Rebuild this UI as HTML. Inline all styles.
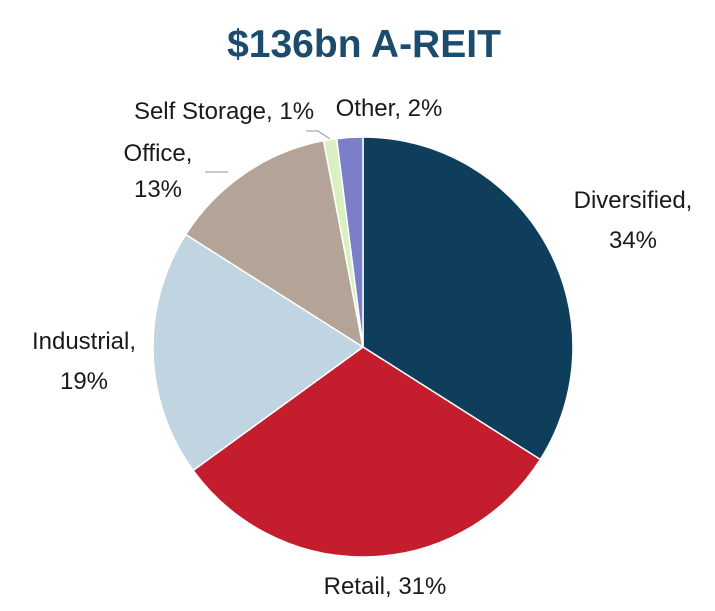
<!DOCTYPE html>
<html><head><meta charset="utf-8"><style>
html,body{margin:0;padding:0;background:#fff;}
svg{display:block;}
text{font-family:"Liberation Sans",sans-serif;fill:#1a1a1a;}
</style></head><body>
<svg width="715" height="611" viewBox="0 0 715 611" xmlns="http://www.w3.org/2000/svg">
<rect width="715" height="611" fill="#fff"/>
<text x="364" y="57" text-anchor="middle" font-size="39" font-weight="bold" style="fill:#1b4b6d">$136bn A-REIT</text>
<g stroke="#fff" stroke-width="1.5">
<path d="M363,347 L363,137 A210,210 0 0 1 540.3,459.5 Z" fill="#0f3d5c"/>
<path d="M363,347 L540.3,459.5 A210,210 0 0 1 193.1,470.4 Z" fill="#c41e2e"/>
<path d="M363,347 L193.1,470.4 A210,210 0 0 1 185.7,234.5 Z" fill="#c1d4e1"/>
<path d="M363,347 L185.7,234.5 A210,210 0 0 1 323.6,140.7 Z" fill="#b3a497"/>
<path d="M363,347 L323.6,140.7 A210,210 0 0 1 336.7,138.7 Z" fill="#d9f0c2"/>
<path d="M363,347 L336.7,138.7 A210,210 0 0 1 363,137 Z" fill="#7b7fc9"/>
</g>
<g stroke="#a6a6a6" stroke-width="1.2" fill="none">
<polyline points="306,131 318,131 330,139"/>
<polyline points="205,172 228,172"/>
</g>
<g font-size="24">
<text x="633" y="208" text-anchor="middle">Diversified,</text>
<text x="633" y="248" text-anchor="middle">34%</text>
<text x="385" y="594" text-anchor="middle">Retail, 31%</text>
<text x="84" y="349" text-anchor="middle">Industrial,</text>
<text x="84" y="389" text-anchor="middle">19%</text>
<text x="158" y="161" text-anchor="middle">Office,</text>
<text x="158" y="197" text-anchor="middle">13%</text>
<text x="224" y="119" text-anchor="middle">Self Storage, 1%</text>
<text x="389" y="116" text-anchor="middle">Other, 2%</text>
</g>
</svg>
</body></html>
